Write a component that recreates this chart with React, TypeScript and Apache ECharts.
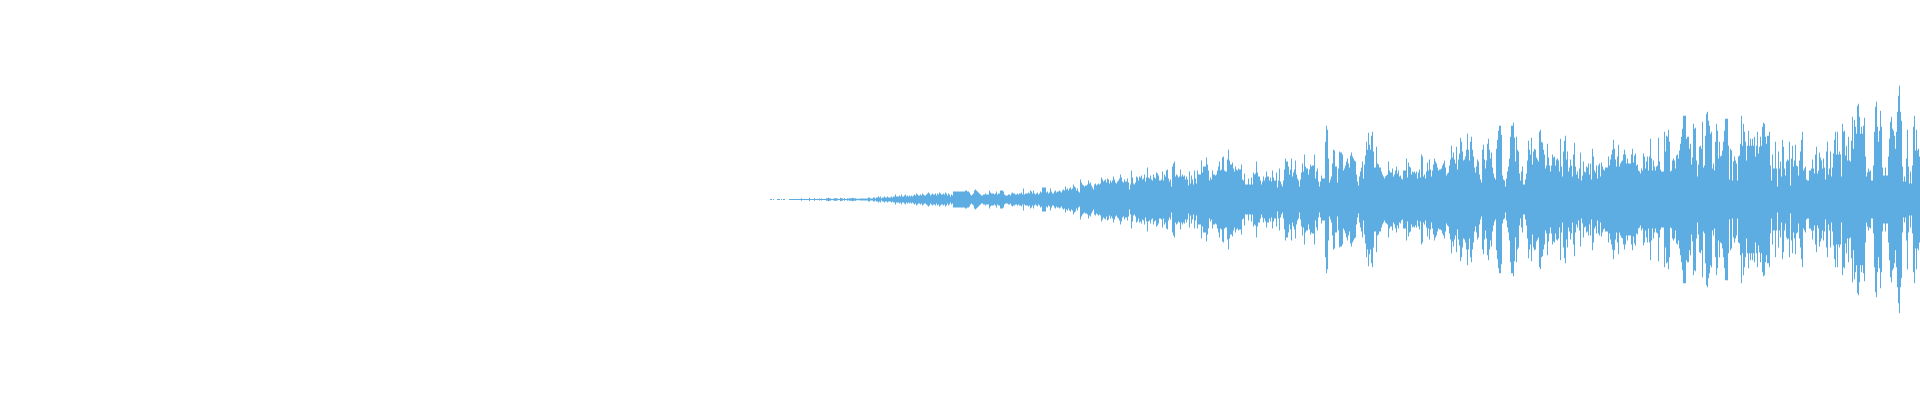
import React, { useEffect, useRef } from "react";
import * as echarts from "echarts";

// Peak amplitude per column, in chart units.
const peaksFaint = [
  0.5,0.5,0,0.5,0,0,0,0.5,0.5,0.5,0,0.5,0,0.5,0.5,0,0,0,0,
  0.5,0.5,0.5,0.5,0.5,0.5,0.5,0.5,0.5,0.5,0.5,0.5,1.2,0.5,0.5,0.5,0.5,0.5,0.5,0.5,1.7,0.5,0.5,0.5,0.5,1.2,0.5,0.5,0.5,0.5,1,0.5,1,0.5,0.5,0.5,0.5,
  1.2,1.2,1.7,1.2,1.2,0.5,0.5,1,1.2,1.2,1.2,1,0.5,0.5,1.7,1.2,1.2,0.5,1.2,0.5,0.5,1.2,0.7,1.2,1.2,1.2,1.7,1.2,1.2,1.2,0.7,0.7,0.7,0.7,
];
const peaksRising = [
  1,1,1,1,1,1,1,1,2,2,1,1,1,2,2,1,2,2,3,2,3,1,2,2,3,2,2,3,2,2,
  2,3,2,3,3,5,3,3,3,4,3,5,3,3,4,5,3,4,3,4,3,4,3,4,5,4,6,5,4,4,
  5,4,6,5,4,4,5,6,7,6,4,5,6,5,5,6,4,6,5,7,6,5,5,6,5,7,6,4,6,5,3,5,4,
  8,8,8,8,8,8,8,8,8,8,8,8,9,9,8,8,7,
  5,4,5,6,9,10,9,8,7,6,5,4,4,5,5,6,5,5,5,9,7,6,6,6,5,6,8,5,6,6,
];
const peaksGrowing = [
  9,9,9,8,5,4,4,4,5,5,4,6,7,6,6,5,5,6,5,6,6,7,5,11,
  5,6,6,6,7,6,9,8,6,9,6,5,6,7,5,6,8,7,12,12,12,12,7,8,6,7,11,
  8,6,6,8,9,7,8,8,9,8,7,9,10,9,13,10,11,9,11,12,10,11,15,13,12,9,11,8,7,20,
  17,15,14,13,14,14,15,19,16,17,14,12,10,15,16,14,15,16,15,16,22,
  20,18,19,20,17,21,20,16,19,17,19,23,20,17,16,18,19,21,25,
  22,18,17,20,18,18,21,17,10,15,29,22,16,15,17,23,22,19,23,22,24,20,21,25,18,22,32,
  22,21,24,20,19,25,22,21,27,26,24,19,
];
const peaksMiddle = [
  19,20,28,19,25,23,29,30,21,18,20,13,33,36,38,23,25,24,22,23,
  30,23,25,23,24,20,23,20,14,28,16,24,20,15,29,21,16,29,25,25,
  25,39,27,33,33,33,42,35,29,19,22,20,29,25,25,24,25,29,33,38,
  29,30,42,43,29,28,28,40,50,39,35,35,37,31,28,33,30,29,31,30,
  30,35,20,19,26,15,15,15,21,15,15,22,15,27,25,26,38,27,23,23,
  19,15,18,23,19,22,28,23,23,19,22,18,29,22,19,19,27,12,19,31,
  18,15,13,19,30,41,38,38,33,25,30,41,23,27,30,39,25,21,19,13,
  20,27,36,28,45,33,31,31,25,30,35,33,34,34,45,21,28,31,18,13,
  18,24,21,21,21,58,74,70,41,17,20,23,36,50,49,33,33,17,31,48,
  47,47,45,29,31,34,38,41,36,32,44,47,43,41,39,38,25,18,14,23,
  28,32,38,21,35,44,58,50,67,55,50,64,68,48,32,32,53,36,35,32,
  32,28,25,23,21,23,24,25,38,29,27,27,31,23,25,29,33,26,29,23,
  24,21,20,29,29,29,41,22,37,33,32,25,28,27,28,26,28,21,27,30,
  22,45,43,23,25,21,28,37,29,40,30,23,29,35,41,38,36,32,29,30,
  30,31,34,36,39,32,24,26,27,34,40,54,42,47,40,36,53,30,40,46,
  62,58,48,39,40,43,50,66,50,39,58,63,50,43,32,27,33,40,38,25,
  20,17,50,55,40,31,39,56,61,50,41,47,32,26,22,20,51,60,69,74,
  74,65,24,20,19,13,21,28,33,41,63,74,74,77,62,38,63,50,48,26,
  19,28,33,15,15,20,26,39,59,50,45,62,35,48,51,50,42,40,38,68,
];
const peaksLoud = [
  70,58,57,50,45,31,34,56,42,34,28,34,45,42,43,34,40,41,39,28,
  61,33,23,48,59,64,40,48,28,32,40,34,23,45,57,33,25,28,21,31,
  47,19,24,38,28,27,33,32,36,25,36,20,51,43,29,27,34,21,34,36,
  23,37,33,30,29,32,32,32,43,34,40,45,50,60,51,40,33,43,55,33,
  36,38,39,45,50,45,36,41,36,36,36,45,51,37,44,46,34,35,29,28,
  26,31,29,46,43,31,38,43,29,43,61,41,29,39,33,29,33,34,62,38,
  30,28,28,28,68,48,64,63,70,58,28,29,39,41,39,31,44,45,41,49,
  56,63,71,84,84,84,61,63,63,51,56,35,42,76,71,72,39,23,35,53,
  54,51,78,32,34,64,86,88,79,74,66,68,31,36,29,58,76,69,41,58,
  43,44,49,58,69,81,81,81,54,20,51,49,19,38,43,39,36,19,43,44,
  56,84,54,76,68,58,39,54,69,54,61,54,61,54,63,43,54,68,46,53,
  63,54,73,77,76,63,56,64,64,68,34,19,45,31,31,58,31,13,48,31,
  38,23,60,53,31,24,38,40,39,58,14,41,54,33,39,55,34,33,24,39,
  48,60,68,29,31,33,20,19,19,29,29,31,40,31,26,45,53,26,29,47,
  42,39,31,41,32,20,48,58,25,31,48,23,32,46,60,68,45,68,45,48,
  45,23,76,68,69,44,54,39,63,39,38,59,83,51,80,73,66,94,96,83,
  66,73,66,74,82,43,23,27,31,28,29,19,19,34,68,93,98,73,58,69,
  89,73,32,24,24,32,24,24,43,61,78,83,71,69,64,51,68,88,104,114,
  88,79,33,18,23,18,41,70,33,16,28,16,34,73,84,49,70,49,51,43,
];

const peaks = [...peaksFaint, ...peaksRising, ...peaksGrowing, ...peaksMiddle, ...peaksLoud];
const columns = peaks.map((_, i) => String(i));
const barColor = "#5dade2";

export default function App() {
  const ref = useRef<HTMLDivElement>(null);
  useEffect(() => {
    const chart = echarts.init(ref.current!, undefined, { renderer: "svg" });
    chart.setOption({
      animation: false,
      backgroundColor: "#ffffff",
      grid: { left: 1920 - peaks.length, right: 0, top: 0, bottom: 1 },
      xAxis: { type: "category", data: columns, show: false, boundaryGap: true },
      yAxis: { type: "value", min: -200, max: 200, show: false },
      series: [
        {
          type: "custom",
          silent: true,
          clip: false,
          encode: { x: 0, y: 1 },
          data: peaks.map((v, i) => [i, v]),
          renderItem: (_: unknown, api: any) => {
            const column = api.value(0);
            const amp = api.value(1);
            const top = api.coord([column, amp]);
            const bottom = api.coord([column, -amp]);
            const width = api.size([1, 0])[0];
            return {
              type: "rect",
              shape: {
                x: top[0] - width / 2,
                y: top[1],
                width,
                height: bottom[1] - top[1],
              },
              style: { fill: barColor },
            };
          },
        },
      ],
    });
    return () => chart.dispose();
  }, []);
  return (
    <div
      ref={ref}
      style={{ position: "fixed", left: 0, top: 0, width: 1920, height: 400 }}
    />
  );
}
